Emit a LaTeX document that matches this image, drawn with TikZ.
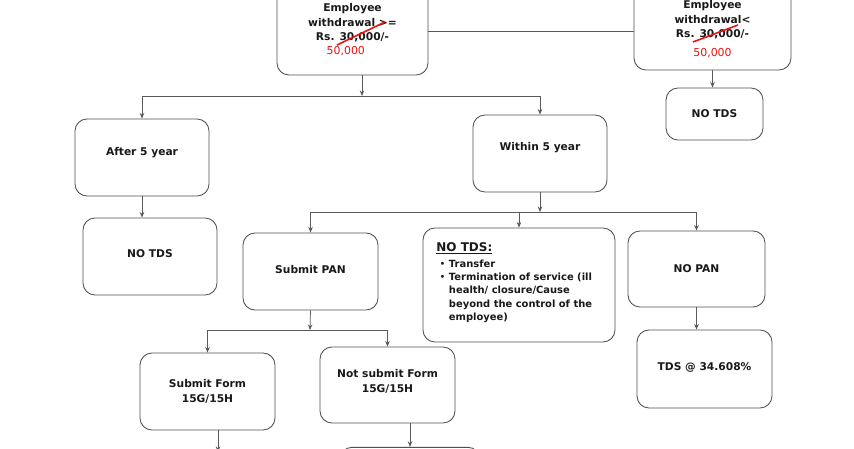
\documentclass[tikz,border=0pt]{standalone}
\usepackage{fontspec}
\setmainfont{DejaVu Sans}
\usetikzlibrary{arrows.meta}
\definecolor{redx}{RGB}{232,20,20}
\definecolor{edge}{RGB}{80,80,80}
\definecolor{wire}{RGB}{90,90,90}
\newcommand{\upby}[2]{\raisebox{#1}[\height][\depth]{#2}}
\begin{document}
\begin{tikzpicture}[x=0.75pt,y=-0.75pt,
  box/.style={draw=edge, line width=0.65pt, rounded corners=9pt, inner sep=0pt,
    align=center, font=\fontsize{8}{10.8}\selectfont\bfseries, text=black!90},
  arr/.style={draw=wire, line width=0.55pt, -{Stealth[length=4.2pt,width=3.4pt]}},
  ln/.style={draw=wire, line width=0.55pt},
  strike/.style={draw=redx, line width=1.2pt}]
\useasboundingbox (0,0) rectangle (854,449);
\clip (0,0) rectangle (854,449);
\fill[white] (0,0) rectangle (854,449);

% nodes
\node[box, minimum width=113.25pt, minimum height=65.25pt] (A) at (352.5,31.5)
  {Employee\\withdrawal >=\\Rs. 30,000/-\\{\hspace*{-10pt}\color{redx}\mdseries\fontsize{8.2}{10.8}\selectfont 50,000}\\[-7.5pt]};
\node[box, minimum width=117.75pt, minimum height=61.5pt] (B) at (712.5,29)
  {Employee\\withdrawal<\\Rs. 30,000/-\\[3pt]{\color{redx}\mdseries\fontsize{8.2}{10.8}\selectfont 50,000}};
\node[box, minimum width=72.75pt, minimum height=39pt] (C) at (714.5,114) {NO TDS};
\node[box, minimum width=100.5pt, minimum height=57.75pt] (D) at (142,157.5) {\upby{3.5pt}{After 5 year}};
\node[box, minimum width=100.5pt, minimum height=57.75pt] (E) at (150,256.5) {\upby{2.5pt}{NO TDS}};
\node[box, minimum width=100.5pt, minimum height=57.75pt] (F) at (540,153.5) {\upby{4.5pt}{Within 5 year}};
\node[box, minimum width=101.25pt, minimum height=57.75pt] (G) at (310.5,271.5) {\upby{1.5pt}{Submit PAN}};
\node[box, minimum width=144pt, minimum height=85.5pt, align=left] (H) at (519,285)
  {\upby{1.8pt}{\begin{minipage}{124pt}\fontsize{7.45}{9.9}\selectfont\bfseries
   {\fontsize{9}{11}\selectfont\underline{NO TDS:}}\\[2pt]
   \hspace*{2.5pt}{\mdseries\textbullet}\ Transfer\\
   \hspace*{2.5pt}{\mdseries\textbullet}\ Termination of service (ill\\
   \hspace*{2.5pt}\hphantom{{\mdseries\textbullet}\ }health/ closure/Cause\\
   \hspace*{2.5pt}\hphantom{{\mdseries\textbullet}\ }beyond the control of the\\
   \hspace*{2.5pt}\hphantom{{\mdseries\textbullet}\ }employee)
   \end{minipage}}};
\node[box, minimum width=102.75pt, minimum height=57pt] (I) at (696.5,269) {NO PAN};
\node[box, minimum width=101.25pt, minimum height=58.5pt] (J) at (704.5,369) {\upby{1pt}{TDS @ 34.608\%}};
\node[box, minimum width=101.25pt, minimum height=57.75pt] (K) at (207.5,391.5) {Submit Form\\15G/15H};
\node[box, minimum width=101.25pt, minimum height=57pt] (L) at (387.5,385) {Not submit Form\\15G/15H\\[-4.6pt]};
\node[box, minimum width=105pt, minimum height=55pt] (M) at (410,484) {};

% strike-through marks
\draw[strike] (337,45) -- (385,22);
\draw[strike] (693,42) -- (738,25);

% connectors
\coordinate (j1) at (362,96);
\coordinate (j2) at (540,212);
\coordinate (j3) at (310,330);
\coordinate (kend) at (218,452);

\draw[ln] (A.east) -- (A.east -| B.west);
\draw[arr] (B.south) -- (B.south |- C.north);
\draw[arr] (A.south -| j1) -- (j1);
\draw[arr] (j1) -| (D.north);
\draw[arr] (j1) -| (F.north);
\draw[arr] (D.south) -- (D.south |- E.north);
\draw[arr] (F.south) -- (j2);
\draw[arr] (j2) -| (G.north);
\draw[arr] (j2) -| (H.north);
\draw[arr] (j2) -| (I.north);
\draw[arr] (I.south) -- (I.south |- J.north);
\draw[arr] (G.south) -- (j3);
\draw[arr] (j3) -| (K.north);
\draw[arr] (j3) -| (L.north);
\draw[arr] (K.south -| kend) -- (kend);
\draw[arr] (L.south -| M.north) -- (M.north);
\end{tikzpicture}
\end{document}
